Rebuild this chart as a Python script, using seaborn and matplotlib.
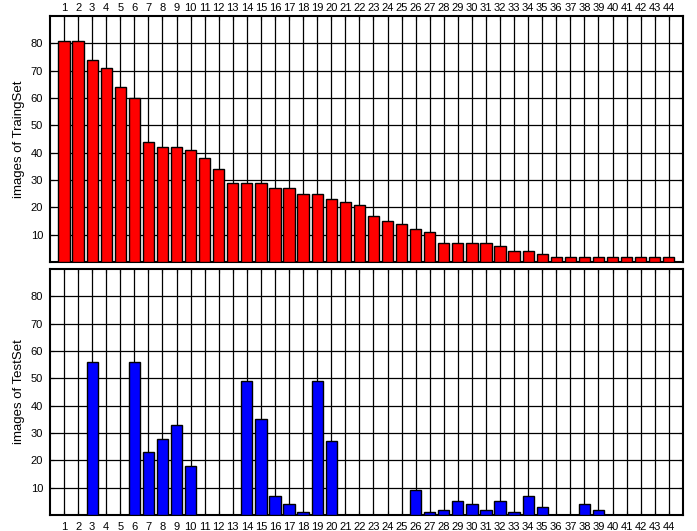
import pandas as pd
import seaborn as sns
import matplotlib.pyplot as plt
import numpy as np

# class index 1..44
classes = list(range(1, 45))

# images per class in the training set
train_counts = [81, 81, 74, 71, 64, 60, 44, 42, 42, 41, 38, 34, 29, 29, 29, 27, 27, 25, 25, 23,
                22, 21, 17, 15, 14, 12, 11, 7, 7, 7, 7, 6, 4, 4, 3, 2, 2, 2, 2, 2, 2, 2, 2, 2]

# images per class in the test set
test_counts = [0, 0, 56, 0, 0, 56, 23, 28, 33, 18, 0, 0, 0, 49, 35, 7, 4, 1, 49, 27,
               0, 0, 0, 0, 0, 9, 1, 2, 5, 4, 2, 5, 1, 7, 3, 0, 0, 4, 2, 0, 0, 0, 0, 0]

df_train = pd.DataFrame({"cls": classes, "n": train_counts})
df_test = pd.DataFrame({"cls": classes, "n": test_counts})

sns.set_style("white")
plt.rcParams['font.family'] = ['Liberation Sans', 'DejaVu Sans']

fig = plt.figure(figsize=(6.97, 5.31), dpi=100)
ax1 = fig.add_axes([0.0717, 0.5066, 0.908, 0.4634])
ax2 = fig.add_axes([0.0717, 0.030, 0.908, 0.4634])

for ax, d, col, lab in [(ax1, df_train, "#ff0000", "images of TraingSet"),
                        (ax2, df_test, "#0000ff", "images of TestSet")]:
    sns.barplot(data=d, x="cls", y="n", native_scale=True, color=col, saturation=1,
                edgecolor="black", linewidth=1, width=0.8, ax=ax, zorder=3)
    ax.set_xlim(0, 45)
    ax.set_ylim(0, 90)
    ax.set_xticks(classes)
    ax.set_xticklabels([str(c) for c in classes])
    ax.set_yticks(range(10, 90, 10))
    ax.grid(True, color="black", linewidth=0.9)
    ax.set_axisbelow(True)
    ax.set_xlabel("")
    ax.set_ylabel(lab, fontsize=9.5, color="black")
    ax.tick_params(axis="both", direction="in", length=3, labelsize=8,
                   labelcolor="black", color="black")
    ax.tick_params(axis="y", pad=5, left=True, right=True)
    for s in ax.spines.values():
        s.set_color("black")
        s.set_linewidth(1.5)

ax1.xaxis.tick_top()
ax1.tick_params(axis="x", top=True, bottom=True, pad=2)
ax2.tick_params(axis="x", top=True, bottom=True, pad=5)

fig.savefig("out.png", dpi=100)
